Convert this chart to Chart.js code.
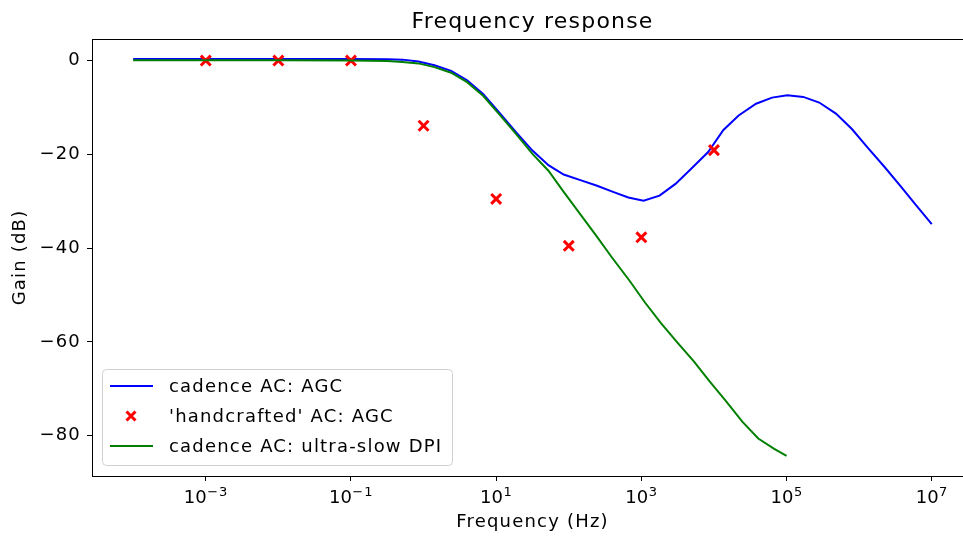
<!DOCTYPE html>
<html>
<head>
<meta charset="utf-8">
<script src="https://cdn.jsdelivr.net/npm/chart.js@4.4.1/dist/chart.umd.min.js"></script>
<style>
    html, body { margin: 0; padding: 0; overflow: hidden; background: #fff; }
</style>
</head>
<body>
<canvas id="chart" width="983" height="536"></canvas>
<script>
// cadence AC: AGC (log10 of frequency, gain in dB)
const agcExp = [-4, -3.5, -3, -2.5, -2, -1.5, -1, -0.5, -0.29, -0.07, 0.15, 0.38, 0.6, 0.82, 1.05, 1.27, 1.5, 1.72,
    1.93, 2.16, 2.39, 2.61, 2.82, 3.03, 3.25, 3.47, 3.69, 3.92, 4.13, 4.34, 4.58, 4.8, 5.01, 5.23, 5.45, 5.68, 5.9, 6.12,
    6.35, 6.57, 6.78, 7.0];
const agcGain = [0.35, 0.35, 0.35, 0.35, 0.35, 0.35, 0.35, 0.3, 0.2, -0.2, -1.0, -2.2, -4.2, -7.1, -11.2, -15.2, -19.2, -22.3,
    -24.3, -25.5, -26.7, -28.0, -29.2, -29.9, -28.8, -26.3, -23.0, -19.5, -14.8, -11.7, -9.2, -7.9, -7.4, -7.75, -8.95, -11.3, -14.6, -18.6,
    -22.7, -26.8, -30.8, -34.9];

// 'handcrafted' AC: AGC
const handExp = [-3, -2, -1, 0, 1, 2, 3, 4];
const handGain = [0, 0, 0, -13.9, -29.5, -39.5, -37.7, -19.1];

// cadence AC: ultra-slow DPI
const dpiExp = [-4, -3, -2, -1, -0.5, -0.29, -0.07, 0.15, 0.38, 0.6, 0.82, 1.05, 1.27, 1.5, 1.72,
    1.93, 2.16, 2.38, 2.6, 2.83, 3.05, 3.27, 3.5, 3.72, 3.94, 4.16, 4.39, 4.61, 4.83, 5.0];
const dpiGain = [0.05, 0.05, 0.05, 0.0, -0.1, -0.3, -0.6, -1.4, -2.6, -4.6, -7.5, -11.6, -15.6, -19.9, -23.5,
    -28.0, -32.8, -37.4, -42.1, -46.8, -51.6, -56.0, -60.2, -64.1, -68.4, -72.5, -77.0, -80.6, -82.8, -84.3];

const xTicks = [1e-3, 1e-1, 1e1, 1e3, 1e5, 1e7];
const yTicks = [0, -20, -40, -60, -80];

const labels = ['cadence AC: AGC', "'handcrafted' AC: AGC", 'cadence AC: ultra-slow DPI'];
const colors = ['#0000ff', '#ff0000', '#008000'];

const FONT = 'DejaVu Sans';
const SPACING = '1.2px';
const toPoints = (ex, ys) => ex.map((e, i) => ({ x: Math.pow(10, e), y: ys[i] }));

// matplotlib hints its glyphs a little wider than the canvas does
const spacing = {
    id: 'spacing',
    beforeDraw(chart) { chart.ctx.letterSpacing = SPACING; }
};

// frame, title, 10^n tick labels and legend the way matplotlib draws them
const decor = {
    id: 'decor',
    afterDraw(chart) {
        const { ctx, chartArea: a } = chart;
        ctx.save();
        ctx.letterSpacing = SPACING;
        ctx.strokeStyle = '#000';
        ctx.lineWidth = 1;
        ctx.beginPath();
        ctx.moveTo(Math.round(a.left) + 0.5, Math.round(a.top) + 0.5);
        ctx.lineTo(Math.round(a.right) + 0.5, Math.round(a.top) + 0.5);
        ctx.stroke();

        ctx.fillStyle = '#000';
        ctx.font = `22px "${FONT}"`;
        ctx.textAlign = 'center';
        ctx.textBaseline = 'alphabetic';
        ctx.fillText('Frequency response', (a.left + a.right) / 2, 28);

        // log tick labels with a raised exponent
        const xs = chart.scales.x;
        ctx.textAlign = 'left';
        xTicks.forEach(v => {
            const px = xs.getPixelForValue(v);
            const ex = String(Math.round(Math.log10(v))).replace('-', '\u2212');
            ctx.font = `18px "${FONT}"`;
            ctx.letterSpacing = '0px';
            const wb = ctx.measureText('10').width;
            ctx.font = `13px "${FONT}"`;
            ctx.letterSpacing = '1px';
            const we = ctx.measureText(ex).width;
            const x0 = px - (wb + we) / 2;
            ctx.font = `18px "${FONT}"`;
            ctx.letterSpacing = '0px';
            ctx.fillText('10', x0, 503);
            ctx.font = `13px "${FONT}"`;
            ctx.letterSpacing = '1px';
            ctx.fillText(ex, x0 + wb + 0.5, 496);
        });
        ctx.letterSpacing = SPACING;

        // legend box
        const bx = 102.5, by = 369.5, bw = 350, bh = 96;
        ctx.beginPath();
        ctx.roundRect(bx, by, bw, bh, 4);
        ctx.fillStyle = 'rgba(255,255,255,0.8)';
        ctx.fill();
        ctx.strokeStyle = '#d0d0d0';
        ctx.stroke();

        const rows = [386, 416, 446];
        ctx.font = `18px "${FONT}"`;
        ctx.textAlign = 'left';
        ctx.textBaseline = 'middle';
        labels.forEach((t, i) => {
            const y = rows[i];
            ctx.strokeStyle = colors[i];
            if (i === 1) {
                ctx.lineWidth = 3;
                ctx.beginPath();
                ctx.moveTo(126.5, y - 4.5); ctx.lineTo(135.5, y + 4.5);
                ctx.moveTo(135.5, y - 4.5); ctx.lineTo(126.5, y + 4.5);
                ctx.stroke();
            } else {
                ctx.lineWidth = 2;
                ctx.beginPath();
                ctx.moveTo(110, y); ctx.lineTo(153, y);
                ctx.stroke();
            }
            ctx.fillStyle = '#000';
            ctx.fillText(t, 169, y + 1);
        });
        ctx.restore();
    }
};

new Chart(document.getElementById('chart'), {
    type: 'scatter',
    data: {
        datasets: [
            {
                label: labels[2], data: toPoints(dpiExp, dpiGain), showLine: true,
                borderColor: colors[2], borderWidth: 2, pointRadius: 0, tension: 0
            },
            {
                label: labels[1], data: toPoints(handExp, handGain), showLine: false,
                pointStyle: 'crossRot', pointRadius: 7, borderColor: colors[1], backgroundColor: colors[1], borderWidth: 3
            },
            {
                label: labels[0], data: toPoints(agcExp, agcGain), showLine: true,
                borderColor: colors[0], borderWidth: 2, pointRadius: 0, tension: 0
            }
        ]
    },
    options: {
        responsive: false,
        animation: false,
        devicePixelRatio: 1,
        events: [],
        layout: { padding: { left: 0, right: 3, top: 39, bottom: 0 } },
        plugins: { legend: { display: false }, tooltip: { enabled: false }, title: { display: false } },
        scales: {
            x: {
                type: 'logarithmic',
                min: Math.pow(10, -4.567),
                max: Math.pow(10, 7.568),
                afterFit: s => { s.height = 60; s.paddingLeft = 0; s.paddingRight = 0; },
                afterBuildTicks: s => { s.ticks = xTicks.map(v => ({ value: v })); },
                grid: { drawOnChartArea: false, tickLength: 5, tickColor: '#000', tickWidth: 1 },
                border: { color: '#000', width: 1 },
                ticks: { display: false, autoSkip: false },
                title: {
                    display: true, text: 'Frequency (Hz)', color: '#000',
                    font: { family: FONT, size: 18 }, padding: { top: 0, bottom: 3 }
                }
            },
            y: {
                min: -88.6,
                max: 4.6,
                afterFit: s => { s.width = 92; s.paddingTop = 0; s.paddingBottom = 0; },
                afterBuildTicks: s => { s.ticks = yTicks.map(v => ({ value: v })); },
                grid: { drawOnChartArea: false, tickLength: 5, tickColor: '#000', tickWidth: 1 },
                border: { color: '#000', width: 1 },
                ticks: {
                    color: '#000', font: { family: FONT, size: 18 }, padding: 6,
                    callback: v => v < 0 ? '\u2212' + Math.abs(v) : String(v)
                },
                title: {
                    display: true, text: 'Gain (dB)', color: '#000',
                    font: { family: FONT, size: 18 }, padding: { top: 10, bottom: 0 }
                }
            }
        }
    },
    plugins: [spacing, decor]
});
</script>
</body>
</html>
